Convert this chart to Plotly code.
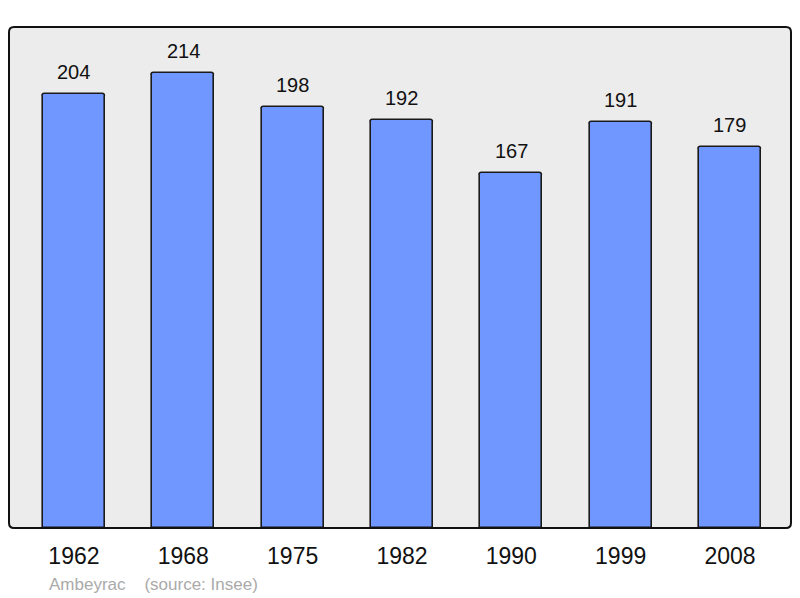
import plotly.graph_objects as go

years = ["1962", "1968", "1975", "1982", "1990", "1999", "2008"]
population = [204, 214, 198, 192, 167, 191, 179]
commune = "Ambeyrac"
source = "(source: Insee)"

xs = list(range(len(years)))

W, H = 784, 590
ML, MR, MT, MB = 1, 1, 19, 70
pw, ph = W - ML - MR, H - MT - MB

fig = go.Figure()
fig.add_trace(go.Bar(
    x=xs, y=population, width=0.567,
    marker=dict(color="#7097ff", line=dict(color="#1a1a1a", width=1.6), cornerradius=3),
    hoverinfo="x+y",
))

for x, v in zip(xs, population):
    fig.add_annotation(x=x, y=v, text=str(v), showarrow=False, yshift=22,
                       font=dict(family="Liberation Sans, Arial", size=20, color="#111111"))

fig.add_annotation(xref="paper", yref="paper", x=(47 - 8 - ML) / pw, y=-(584 - 528) / ph,
                   xanchor="left", yanchor="middle",
                   text=commune + "\u00a0\u00a0\u00a0\u00a0" + source, showarrow=False,
                   font=dict(family="Liberation Sans, Arial", size=17, color="#aaaaaa"))

# rounded border around plot area
rad = 5
rx, ry = rad / pw, rad / ph
path = (f"M {rx},0 L {1-rx},0 Q 1,0 1,{ry} L 1,{1-ry} Q 1,1 {1-rx},1 "
        f"L {rx},1 Q 0,1 0,{1-ry} L 0,{ry} Q 0,0 {rx},0 Z")
fig.add_shape(type="path", xref="paper", yref="paper", path=path,
              fillcolor="#ececec", line=dict(width=0), layer="below")
fig.add_shape(type="path", xref="paper", yref="paper", path=path,
              line=dict(color="#111111", width=2), layer="above")

fig.update_layout(
    width=W, height=H,
    margin=dict(l=ML, r=MR, t=MT, b=MB),
    paper_bgcolor="white", plot_bgcolor="rgba(0,0,0,0)",
    showlegend=False,
    bargap=0,
    xaxis=dict(range=[-0.594, 6.558], tickmode="array", tickvals=xs, ticktext=years,
               showgrid=False, zeroline=False, ticks="outside", ticklen=7, tickcolor="rgba(0,0,0,0)",
               tickfont=dict(family="Liberation Sans, Arial", size=23, color="#111111"), fixedrange=True),
    yaxis=dict(range=[0, 235.6], showticklabels=False, showgrid=False, zeroline=False, fixedrange=True),
)

fig.write_html("out.html")
